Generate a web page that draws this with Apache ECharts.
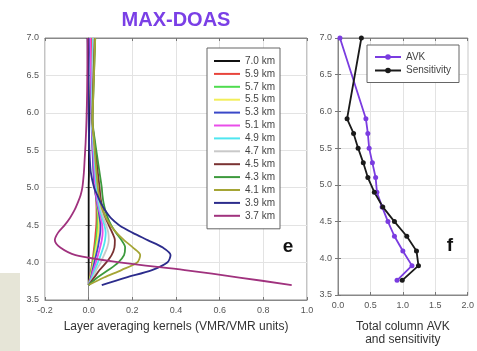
<!DOCTYPE html>
<html>
<head>
<meta charset="utf-8">
<script src="https://cdn.jsdelivr.net/npm/echarts@6/dist/echarts.min.js"></script>
<style>
html, body { margin: 0; padding: 0; background: #fff; }
#chart { width: 477px; height: 351px; }
</style>
</head>
<body>
<div id="chart"></div>
<script>
// altitude levels (km) the kernels are read at
const altitudes = [3.7, 3.8, 3.9, 4.0, 4.1, 4.2, 4.3, 4.4, 4.5, 4.6, 4.7, 4.8, 4.9, 5.0, 5.2, 5.4, 5.6, 5.9, 6.3, 7.0];

const kernelLayers = ['7.0 km', '5.9 km', '5.7 km', '5.5 km', '5.3 km', '5.1 km', '4.9 km', '4.7 km', '4.5 km', '4.3 km', '4.1 km', '3.9 km', '3.7 km'];

const k70 = [0, 0, 0, 0, 0, 0, 0, 0, 0, 0, 0, 0, 0, 0, 0.001, 0.001, 0.002, 0.002, 0, -0.004];
const k59 = [0, 0.006, 0.011, 0.016, 0.021, 0.025, 0.029, 0.032, 0.035, 0.036, 0.036, 0.035, 0.033, 0.031, 0.027, 0.023, 0.02, 0.016, 0.015, 0.012];
const k57 = [0, 0.007, 0.013, 0.019, 0.024, 0.029, 0.034, 0.038, 0.04, 0.041, 0.04, 0.037, 0.033, 0.03, 0.026, 0.022, 0.019, 0.015, 0.018, 0.022];
const k55 = [0, 0.008, 0.015, 0.022, 0.028, 0.034, 0.04, 0.044, 0.046, 0.046, 0.043, 0.038, 0.033, 0.028, 0.023, 0.02, 0.017, 0.014, 0.016, 0.02];
const k53 = [0, 0.01, 0.018, 0.026, 0.034, 0.042, 0.048, 0.053, 0.054, 0.05, 0.045, 0.038, 0.032, 0.027, 0.022, 0.019, 0.016, 0.013, 0.01, 0.004];
const k51 = [0, 0.012, 0.022, 0.033, 0.043, 0.052, 0.06, 0.064, 0.062, 0.056, 0.048, 0.04, 0.034, 0.03, 0.026, 0.022, 0.018, 0.014, 0.012, 0.008];
const k49 = [0, 0.015, 0.028, 0.042, 0.055, 0.067, 0.075, 0.078, 0.072, 0.062, 0.052, 0.045, 0.04, 0.036, 0.031, 0.026, 0.021, 0.015, 0.016, 0.02];
const k47 = [0, 0.02, 0.035, 0.055, 0.07, 0.085, 0.092, 0.09, 0.08, 0.068, 0.058, 0.05, 0.045, 0.042, 0.036, 0.03, 0.024, 0.016, 0.018, 0.024];
const k45 = [0, 0.025, 0.05, 0.08, 0.105, 0.118, 0.12, 0.108, 0.092, 0.077, 0.066, 0.058, 0.053, 0.05, 0.042, 0.035, 0.027, 0.017, 0.02, 0.028];
const k43 = [0, 0.04, 0.09, 0.135, 0.162, 0.167, 0.15, 0.125, 0.103, 0.087, 0.076, 0.068, 0.063, 0.06, 0.05, 0.04, 0.03, 0.018, 0.022, 0.03];
const k41 = [0, 0.07, 0.15, 0.222, 0.236, 0.203, 0.162, 0.127, 0.1, 0.079, 0.064, 0.054, 0.047, 0.042, 0.036, 0.03, 0.025, 0.018, 0.022, 0.03];
const k39 = [0.06, 0.17, 0.29, 0.36, 0.375, 0.34, 0.27, 0.2, 0.14, 0.1, 0.075, 0.055, 0.04, 0.025, 0.01, 0.005, 0.002, 0, -0.002, -0.005];
const k37 = [0.93, 0.69, 0.44, 0.15, -0.06, -0.13, -0.155, -0.14, -0.11, -0.085, -0.065, -0.05, -0.037, -0.029, -0.022, -0.018, -0.014, -0.01, -0.007, -0.005];

const kernels = [k70, k59, k57, k55, k53, k51, k49, k47, k45, k43, k41, k39, k37];

// total column AVK and sensitivity
const profileAlt = [3.7, 3.9, 4.1, 4.3, 4.5, 4.7, 4.9, 5.1, 5.3, 5.5, 5.7, 5.9, 7.0];
const avk = [0.91, 1.14, 1.0, 0.87, 0.77, 0.68, 0.6, 0.58, 0.53, 0.48, 0.46, 0.43, 0.03];
const sensitivity = [0.99, 1.24, 1.21, 1.06, 0.87, 0.69, 0.56, 0.46, 0.39, 0.31, 0.24, 0.14, 0.36];

const kernelColors = ['#111111', '#e8453c', '#4fdc4f', '#f2ee5a', '#3a48c8', '#e94ee9', '#4fe6f0', '#c9c9c9', '#7a3232', '#3d9a3d', '#a5a535', '#2c2c8c', '#a0327e'];

const tickLabel = { fontSize: 9, color: '#555', fontFamily: 'Liberation Sans', formatter: v => v.toFixed(1) };
const gridLine = { show: true, lineStyle: { color: '#e3e3e3', width: 1 } };
const tickIn = { show: true, inside: true, length: 3, lineStyle: { color: '#777' } };
const line = { show: true, lineStyle: { color: '#888' } };

function valAxis(grid, pos, min, max, step, labels) {
  return {
    type: 'value', gridIndex: grid, position: pos, min: min, max: max, interval: step,
    axisLine: line, axisTick: tickIn,
    axisLabel: labels ? Object.assign({ margin: 6 }, tickLabel) : { show: false },
    splitLine: labels ? gridLine : { show: false }
  };
}

const kernelSeries = kernels.map((k, i) => ({
  name: kernelLayers[i],
  type: 'line',
  xAxisIndex: 0,
  yAxisIndex: 0,
  data: altitudes.map((a, j) => [k[j], a]),
  symbol: 'none',
  smooth: 0.3,
  lineStyle: { width: 1.8, color: kernelColors[i] },
  itemStyle: { color: kernelColors[i] }
}));

const chart = echarts.init(document.getElementById('chart'));
chart.setOption({
  animation: false,
  backgroundColor: '#fff',
  grid: [
    { left: 45, right: 170, top: 38, bottom: 51, show: true, borderColor: '#888', borderWidth: 1 },
    { left: 338, right: 7, top: 38, bottom: 51, show: true, borderColor: '#888', borderWidth: 1 }
  ],
  xAxis: [
    Object.assign(valAxis(0, 'bottom', -0.2, 1.0, 0.2, true), {
      name: 'Layer averaging kernels (VMR/VMR units)', nameLocation: 'middle', nameGap: 21,
      nameTextStyle: { fontSize: 12, color: '#333', fontFamily: 'Liberation Sans' }
    }),
    valAxis(0, 'top', -0.2, 1.0, 0.2, false),
    Object.assign(valAxis(1, 'bottom', 0, 2, 0.5, true), {
      name: 'Total column AVK\nand sensitivity', nameLocation: 'middle', nameGap: 25,
      nameTextStyle: { fontSize: 12, color: '#333', fontFamily: 'Liberation Sans', lineHeight: 13 }
    }),
    valAxis(1, 'top', 0, 2, 0.5, false)
  ],
  yAxis: [
    valAxis(0, 'left', 3.5, 7.0, 0.5, true),
    valAxis(0, 'right', 3.5, 7.0, 0.5, false),
    valAxis(1, 'left', 3.5, 7.0, 0.5, true),
    valAxis(1, 'right', 3.5, 7.0, 0.5, false)
  ],
  legend: [
    {
      data: kernelLayers, orient: 'vertical', left: 207, top: 48,
      padding: [8, 5, 8, 6], itemWidth: 26, itemHeight: 10, itemGap: 2.9,
      itemStyle: { opacity: 0 },
      backgroundColor: '#fff', borderColor: '#666', borderWidth: 1, borderRadius: 0,
      textStyle: { fontSize: 10, color: '#444', fontFamily: 'Liberation Sans', lineHeight: 10 }
    },
    {
      data: ['AVK', 'Sensitivity'], orient: 'vertical', left: 367, top: 45,
      padding: [7, 8, 7, 7], itemWidth: 26, itemHeight: 7, itemGap: 3.5,
      backgroundColor: '#fff', borderColor: '#666', borderWidth: 1, borderRadius: 0,
      textStyle: { fontSize: 10, color: '#444', fontFamily: 'Liberation Sans', lineHeight: 10 }
    }
  ],
  graphic: [
    { type: 'rect', left: 0, top: 273, shape: { width: 20, height: 78 }, style: { fill: '#e6e5d7' } },
    { type: 'text', x: 176, y: 20, style: { text: 'MAX-DOAS', fill: '#7a3fe6', font: 'bold 20px "Liberation Sans"', textAlign: 'center', textVerticalAlign: 'middle' } },
    { type: 'text', x: 288, y: 247, style: { text: 'e', fill: '#111', font: 'bold 19px "Liberation Sans"', textAlign: 'center', textVerticalAlign: 'middle' } },
    { type: 'text', x: 450, y: 246, style: { text: 'f', fill: '#111', font: 'bold 19px "Liberation Sans"', textAlign: 'center', textVerticalAlign: 'middle' } }
  ],
  series: kernelSeries.concat([
    {
      name: 'AVK', type: 'line', xAxisIndex: 2, yAxisIndex: 2,
      data: profileAlt.map((a, i) => [avk[i], a]),
      symbol: 'circle', symbolSize: 5,
      lineStyle: { width: 1.8, color: '#7a3ce0' }, itemStyle: { color: '#7a3ce0' }
    },
    {
      name: 'Sensitivity', type: 'line', xAxisIndex: 2, yAxisIndex: 2,
      data: profileAlt.map((a, i) => [sensitivity[i], a]),
      symbol: 'circle', symbolSize: 5,
      lineStyle: { width: 1.8, color: '#1a1a1a' }, itemStyle: { color: '#1a1a1a' }
    }
  ])
});
</script>
</body>
</html>
